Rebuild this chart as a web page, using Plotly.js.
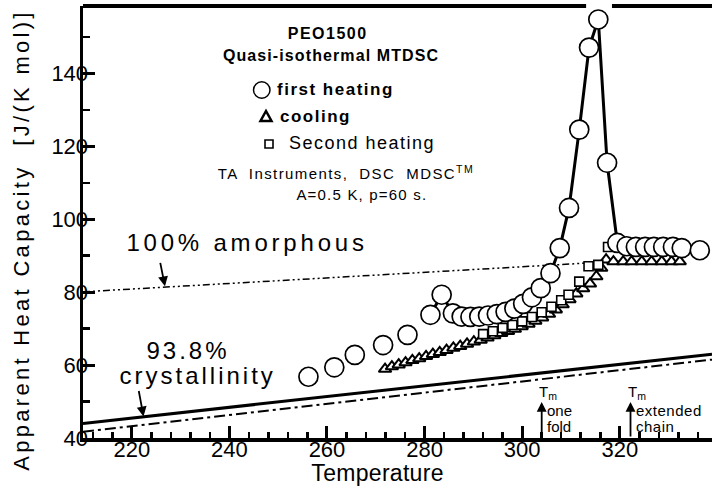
<!DOCTYPE html>
<html>
<head>
<meta charset="utf-8">
<script src="https://cdn.plot.ly/plotly-3.0.1.min.js"></script>
<style>html,body{margin:0;padding:0;background:#fff;}#chart{width:712px;height:491px;}</style>
</head>
<body>
<div id="chart"></div>
<script>
// ---- data ----
const heat1T = [256.2, 261.5, 265.7, 271.5, 276.5, 281.2, 283.5, 285.8, 287.6, 289.4, 291.2, 293.0, 294.8, 296.6, 298.4, 300.2, 302.0, 303.8, 305.8, 307.7, 309.6, 311.7, 313.7, 315.6, 317.4, 319.5, 321.4, 323.3, 325.2, 327.0, 328.9, 330.9, 332.7, 336.4];
const heat1Cp = [56.8, 59.4, 62.8, 65.5, 68.3, 73.8, 79.3, 74.2, 73.3, 73.2, 73.3, 73.6, 74.0, 74.6, 75.5, 76.8, 78.6, 81.1, 85.2, 92.1, 103.1, 124.6, 147.1, 154.8, 115.5, 93.5, 92.6, 92.4, 92.4, 92.4, 92.4, 92.4, 92.1, 91.5];
const coolT = [271.9, 273.3, 274.7, 276.1, 277.5, 278.9, 280.3, 281.7, 283.1, 284.5, 285.9, 287.3, 288.7, 290.1, 291.5, 292.9, 294.3, 295.7, 297.1, 298.5, 299.9, 301.3, 302.7, 304.1, 305.5, 306.9, 308.3, 309.7, 311.1, 312.5, 313.9, 315.2, 316.2, 317.2, 318.7, 320.7, 322.4, 324.5, 326.5, 328.6, 330.6, 332.3];
const coolCp = [58.9, 59.6, 60.1, 60.7, 61.3, 61.8, 62.4, 63.0, 63.5, 64.1, 64.7, 65.2, 65.8, 66.4, 66.9, 67.5, 68.1, 68.7, 69.3, 69.9, 70.6, 71.3, 72.1, 73.0, 74.0, 75.2, 76.6, 78.0, 79.6, 81.0, 82.3, 84.3, 86.6, 88.9, 88.4, 88.4, 88.4, 88.4, 88.4, 88.4, 88.4, 88.4];
const heat2T = [292.0, 294.0, 296.0, 298.0, 300.0, 302.0, 304.0, 306.0, 308.0, 309.5, 311.7, 313.6, 315.6, 317.6];
const heat2Cp = [68.5, 69.3, 70.2, 71.0, 72.0, 73.2, 74.5, 76.0, 77.8, 79.3, 82.9, 87.1, 87.5, 92.4];
const amorphT = [210, 320];
const amorphCp = [80.1, 88.5];
const crystT = [210, 338.9];
const crystCp = [44.0, 63.0];
const cryst2T = [210, 338.9];
const cryst2Cp = [41.7, 61.5];
const xTicks = [220, 240, 260, 280, 300, 320];
const yTicks = [40, 60, 80, 100, 120, 140];
const Tm = [304.0, 322.2];

// ---- layout helpers (pixel -> paper) ----
const L = 83, T = 6, W = 629, H = 432;
const px = v => (v - L) / W;
const py = v => (T + H - v) / H;
const FONT = 'Liberation Sans, Arial, sans-serif';

const lineIdxStart = 5, lineIdxEnd = 25;

const traces = [
  {x: amorphT, y: amorphCp, mode: 'lines', line: {color: '#000', width: 1.5, dash: '7px,3px,2px,3px,2px,3px'}, hoverinfo: 'skip'},
  {x: cryst2T, y: cryst2Cp, mode: 'lines', line: {color: '#000', width: 2, dash: '11px,4px,3px,4px'}, hoverinfo: 'skip'},
  {x: crystT, y: crystCp, mode: 'lines', line: {color: '#000', width: 3}, hoverinfo: 'skip'},
  {x: heat1T.slice(lineIdxStart, lineIdxEnd + 1), y: heat1Cp.slice(lineIdxStart, lineIdxEnd + 1), mode: 'lines', line: {color: '#000', width: 3}, hoverinfo: 'skip'},
  {x: coolT, y: coolCp, mode: 'markers', marker: {symbol: 'triangle-up', size: 11, color: '#fff', line: {color: '#000', width: 2}}, cliponaxis: false},
  {x: heat2T, y: heat2Cp, mode: 'markers', marker: {symbol: 'square', size: 9, color: '#fff', line: {color: '#000', width: 1.6}}, cliponaxis: false},
  {x: heat1T, y: heat1Cp, mode: 'markers', marker: {symbol: 'circle', size: 19, color: '#fff', line: {color: '#000', width: 1.7}}, cliponaxis: false}
];

const anns = [];
const ls = [];
function addText(text, x, y, size, opts, spacing) {
  anns.push(Object.assign({xref: 'paper', yref: 'paper', x: px(x), y: py(y), text: text, showarrow: false,
    xanchor: 'center', yanchor: 'middle', font: {family: FONT, size: size, color: '#000'}}, opts || {}));
  ls.push(spacing || 0);
}
addText('<b>PEO1500</b>', 327, 33, 16, null, 1.5);
addText('<b>Quasi-isothermal MTDSC</b>', 331, 56, 16, null, 1.1);
addText('<b>first heating</b>', 275, 90, 17, {xanchor: 'left', align: 'left'}, 1.5);
addText('<b>cooling</b>', 278, 116, 17, {xanchor: 'left', align: 'left'}, 1.5);
addText('Second heating', 287, 143, 18, {xanchor: 'left', align: 'left'}, 1.5);
addText('TA  Instruments,  DSC  MDSC<sup>TM</sup>', 346, 172, 15, null, 1.4);
addText('A=0.5 K, p=60 s.', 362, 194, 15, null, 1.2);
addText('100% amorphous', 247, 242, 24, null, 3.8);
addText('93.8%', 188, 350, 24, null, 3);
addText('crystallinity', 197, 375, 24, null, 3);
addText('Temperature', 377, 473, 23, null, 0.3);
addText('Apparent Heat Capacity  [J/(K mol)]', 21, 240, 22, {textangle: -90}, 3.3);
addText('T<sub>m</sub>', 537, 392, 15, {xanchor: 'left', align: 'left'}, 0);
addText('one', 545, 410, 15, {xanchor: 'left', align: 'left'}, 0);
addText('fold', 545, 426, 15, {xanchor: 'left', align: 'left'}, 0);
addText('T<sub>m</sub>', 626, 392, 15, {xanchor: 'left', align: 'left'}, 0);
addText('extended', 634, 410, 15, {xanchor: 'left', align: 'left'}, 0.5);
addText('chain', 634, 426, 15, {xanchor: 'left', align: 'left'}, 0.5);

// arrows
function addArrow(xd, yd, ax, ay) {
  anns.push({xref: 'x', yref: 'y', x: xd, y: yd, ax: ax, ay: ay, text: '', showarrow: true,
    arrowhead: 2, arrowsize: 1.1, arrowwidth: 1.8, arrowcolor: '#000'});
  ls.push(0);
}
addArrow(226.8, 81.6, -5, -25);
addArrow(222.4, 45.9, -5, -27);
addArrow(Tm[0], 49.9, 0, 36);
addArrow(Tm[1], 49.9, 0, 36);

const shapes = [
  {type: 'line', xref: 'x', yref: 'paper', x0: 210, x1: 313.1, y0: 1, y1: 1, line: {color: '#000', width: 4}},
  {type: 'line', xref: 'x', yref: 'paper', x0: 318.4, x1: 338.9, y0: 1, y1: 1, line: {color: '#000', width: 4}},
  {type: 'circle', xref: 'paper', yref: 'paper', x0: px(253.5), x1: px(270), y0: py(98.2), y1: py(81.8), line: {color: '#000', width: 1.5}},
  {type: 'path', xref: 'paper', yref: 'paper', path: 'M' + px(260.5) + ',' + py(121) + ' L' + px(271.5) + ',' + py(121) + ' L' + px(266) + ',' + py(111) + ' Z', line: {color: '#000', width: 2.5}},
  {type: 'rect', xref: 'paper', yref: 'paper', x0: px(265), x1: px(273), y0: py(148), y1: py(140), line: {color: '#000', width: 1.6}}
];

const layout = {
  width: 712, height: 491,
  margin: {l: L, r: 0, t: T, b: 491 - T - H},
  paper_bgcolor: '#fff', plot_bgcolor: '#fff',
  showlegend: false,
  font: {family: FONT, color: '#000'},
  xaxis: {
    range: [210, 338.9], showgrid: false, zeroline: false,
    showline: true, linecolor: '#000', linewidth: 3.5, mirror: false,
    tickmode: 'array', tickvals: xTicks, ticktext: xTicks.map(String),
    ticks: 'inside', ticklen: 12, tickwidth: 3, tickcolor: '#000',
    tickfont: {family: FONT, size: 22, color: '#000'}, ticklabelstandoff: -11,
    minor: {tickmode: 'linear', tick0: 0, dtick: 4, ticks: 'inside', ticklen: 6, tickwidth: 2.5, tickcolor: '#000', showgrid: false},
    layer: 'below traces'
  },
  yaxis: {
    range: [40, 158.5], showgrid: false, zeroline: false,
    showline: true, linecolor: '#000', linewidth: 3.5, mirror: false,
    tickmode: 'array', tickvals: yTicks, ticktext: yTicks.map(String),
    ticks: 'inside', ticklen: 12, tickwidth: 3, tickcolor: '#000',
    tickfont: {family: FONT, size: 22, color: '#000'}, ticklabelstandoff: -13,
    minor: {tickmode: 'linear', tick0: 0, dtick: 10, ticks: 'inside', ticklen: 7, tickwidth: 2.5, tickcolor: '#000', showgrid: false},
    layer: 'below traces'
  },
  annotations: anns,
  shapes: shapes
};

Plotly.newPlot('chart', traces, layout, {staticPlot: true, displayModeBar: false}).then(function () {
  document.querySelectorAll('.annotation').forEach(function (g) {
    const i = +g.getAttribute('data-index');
    if (ls[i]) {
      const t = g.querySelector('text');
      if (t) t.style.letterSpacing = ls[i] + 'px';
    }
  });
});
</script>
</body>
</html>
